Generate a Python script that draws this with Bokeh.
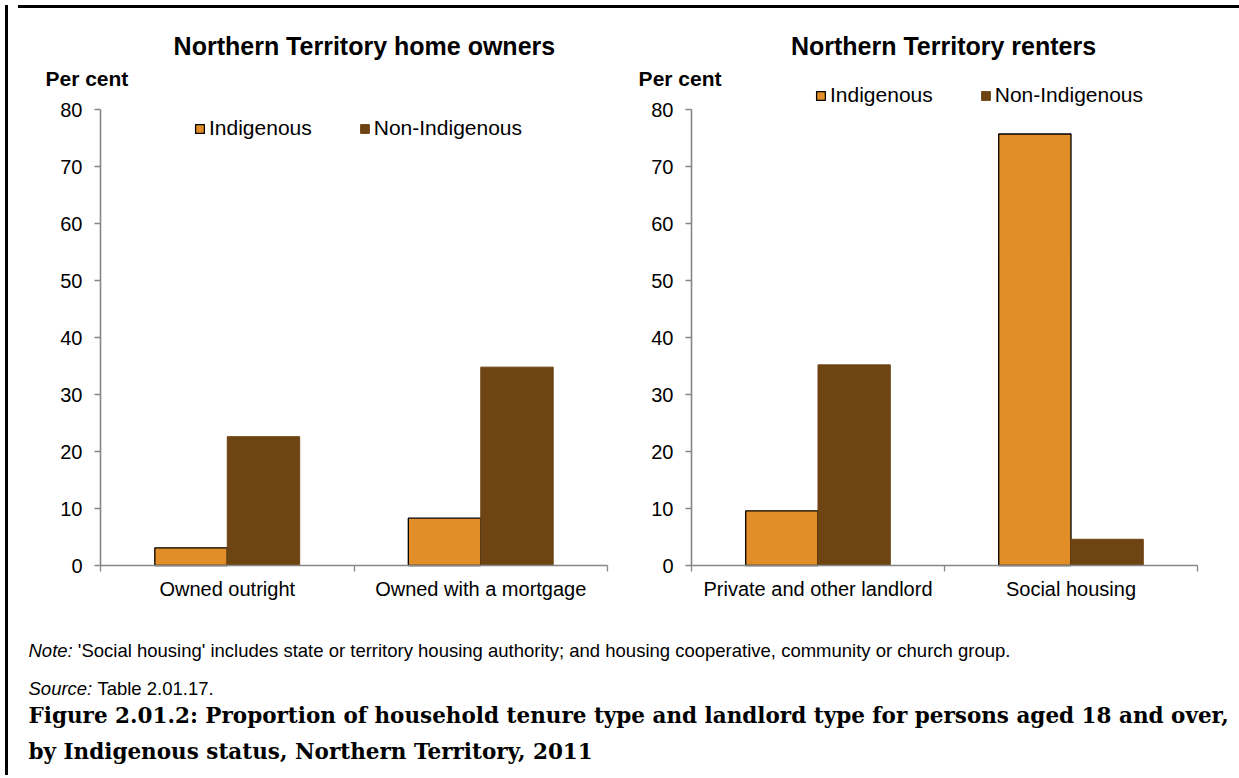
from bokeh.plotting import figure
from bokeh.models import (Range1d, FixedTicker, Legend, LegendItem,
                          ColumnDataSource, Div)
from bokeh.layouts import column, row
from bokeh.transform import dodge
from bokeh.embed import file_html
from bokeh.resources import INLINE
from bokeh.core.properties import value

# ---------------- data ----------------
owners_categories = ["Owned outright", "Owned with a mortgage"]
owners_indigenous = [3.1, 8.3]
owners_non_indigenous = [22.6, 34.8]

renters_categories = ["Private and other landlord", "Social housing"]
renters_indigenous = [9.6, 75.7]
renters_non_indigenous = [35.2, 4.6]

series_names = ["Indigenous", "Non-Indigenous"]
y_ticks = [0, 10, 20, 30, 40, 50, 60, 70, 80]

owners_title = "Northern Territory home owners"
renters_title = "Northern Territory renters"
y_title = "Per cent"
note_label = "Note:"
note_text = "'Social housing' includes state or territory housing authority; and housing cooperative, community or church group."
source_label = "Source:"
source_text = "Table 2.01.17."
caption_1 = "Figure 2.01.2: Proportion of household tenure type and landlord type for persons aged 18 and over,"
caption_2 = "by Indigenous status, Northern Territory, 2011"

# ---------------- style ----------------
C_IND = "#E28E28"
C_NON = "#6E4413"
AXIS_C = "#868686"
FONT = "Liberation Sans"
BAR_W = 1 / 3.5
CHART_H = 612
BELOW_PX = 60          # space under the zero line for category labels
PX_PER_UNIT = 5.7


def make_chart(cats, ind, non, title, width, left_px, right_px, unit_px,
               title_x, pc_x, legend_loc):
    n = len(cats)
    p = figure(width=width, height=CHART_H, output_backend="svg",
               toolbar_location=None,
               x_range=Range1d(-left_px / unit_px, n + right_px / unit_px),
               y_range=Range1d(-BELOW_PX / PX_PER_UNIT,
                               (CHART_H - BELOW_PX) / PX_PER_UNIT),
               min_border=0)
    p.outline_line_color = None
    p.xgrid.visible = False
    p.ygrid.visible = False
    p.background_fill_color = "white"
    p.border_fill_color = "white"

    src = ColumnDataSource(dict(x=[i + 0.5 for i in range(n)],
                                ind=ind, non=non))
    r1 = p.vbar(x=dodge("x", -BAR_W / 2), top="ind", width=BAR_W,
                source=src, fill_color=C_IND, line_color="black",
                line_width=1.3)
    r2 = p.vbar(x=dodge("x", BAR_W / 2), top="non", width=BAR_W,
                source=src, fill_color=C_NON, line_color=C_NON,
                line_width=1)

    # y axis drawn at x = 0, line from 0 to 80
    ya = p.yaxis[0]
    ya.fixed_location = 0
    ya.ticker = FixedTicker(ticks=y_ticks)
    ya.bounds = (y_ticks[0], y_ticks[-1])
    ya.axis_line_color = AXIS_C
    ya.axis_line_width = 1.6
    ya.major_tick_line_color = AXIS_C
    ya.major_tick_line_width = 1.3
    ya.major_tick_in = 0
    ya.major_tick_out = 6
    ya.minor_tick_line_color = None
    ya.major_label_text_font = FONT
    ya.major_label_text_font_size = "20px"
    ya.major_label_text_color = "black"
    ya.major_label_standoff = 12

    # x axis drawn at y = 0: labels at category centres, ticks at boundaries
    xa = p.xaxis[0]
    xa.fixed_location = 0
    xa.bounds = (0, n)
    xa.ticker = FixedTicker(ticks=[i + 0.5 for i in range(n)],
                            minor_ticks=list(range(n + 1)))
    xa.major_label_overrides = {i + 0.5: c for i, c in enumerate(cats)}
    xa.axis_line_color = AXIS_C
    xa.axis_line_width = 1.6
    xa.major_tick_line_color = None
    xa.major_tick_in = 0
    xa.major_tick_out = 0
    xa.minor_tick_line_color = AXIS_C
    xa.minor_tick_line_width = 1.3
    xa.minor_tick_in = 0
    xa.minor_tick_out = 6
    xa.major_label_text_font = FONT
    xa.major_label_text_font_size = "20px"
    xa.major_label_text_color = "black"
    xa.major_label_standoff = 6

    # chart title and y-axis title
    p.text(x=[title_x], y=[91.1], text=[title], text_font=value(FONT),
           text_font_size="25px", text_font_style="bold",
           text_align="center", text_baseline="middle", text_color="black")
    p.text(x=[pc_x], y=[85.5], text=[y_title], text_font=value(FONT),
           text_font_size="21px", text_font_style="bold",
           text_align="left", text_baseline="middle", text_color="black")

    legend = Legend(items=[LegendItem(label=series_names[0], renderers=[r1]),
                           LegendItem(label=series_names[1], renderers=[r2])],
                    location=legend_loc, orientation="horizontal",
                    border_line_color=None, background_fill_alpha=0,
                    padding=0, margin=0, spacing=47, label_standoff=4,
                    glyph_width=11, glyph_height=11,
                    label_text_font=FONT, label_text_font_size="21px",
                    label_text_color="black")
    p.add_layout(legend)
    return p


# legend location is measured from the bottom-left of the frame (canvas bottom)
p1 = make_chart(owners_categories, owners_indigenous, owners_non_indigenous,
                owners_title, 609, 87, 15, 253.5, 1.041, -0.217,
                (181, 425 + BELOW_PX))
p2 = make_chart(renters_categories, renters_indigenous, renters_non_indigenous,
                renters_title, 619, 69, 44, 253, 0.996, -0.209,
                (193, 458 + BELOW_PX))


def text_panel(w, h):
    t = figure(width=w, height=h, output_backend="svg", toolbar_location=None,
               x_range=Range1d(0, w), y_range=Range1d(h, 0), min_border=0)
    t.axis.visible = False
    t.grid.visible = False
    t.outline_line_color = None
    return t


# ---------------- notes & caption ----------------
W = 1228
H3 = 155
foot = text_panel(W, H3)
NOTE_FS = 18.5
foot.text(x=[15], y=[25], text=[note_label], text_font=value(FONT),
          text_font_size=f"{NOTE_FS}px", text_font_style="italic",
          text_baseline="middle", text_color="black")
foot.text(x=[15 + 2.668 * NOTE_FS], y=[25], text=[note_text],
          text_font=value(FONT), text_font_size=f"{NOTE_FS}px",
          text_baseline="middle", text_color="black")
foot.text(x=[15], y=[63], text=[source_label], text_font=value(FONT),
          text_font_size=f"{NOTE_FS}px", text_font_style="italic",
          text_baseline="middle", text_color="black")
foot.text(x=[15 + 3.724 * NOTE_FS], y=[63], text=[source_text],
          text_font=value(FONT), text_font_size=f"{NOTE_FS}px",
          text_baseline="middle", text_color="black")
foot.text(x=[15, 15], y=[90, 126], text=[caption_1, caption_2],
          text_font=value("DejaVu Serif"), text_font_size="21.5px",
          text_font_style="bold", text_baseline="middle", text_color="black")

left_bar = Div(width=3, height=770, styles={"background-color": "black"})
top_bar = Div(width=W, height=3, styles={"background-color": "black"})

layout = row(left_bar, column(top_bar, row(p1, p2), foot))

open("out.html", "w").write(file_html(layout, INLINE))
